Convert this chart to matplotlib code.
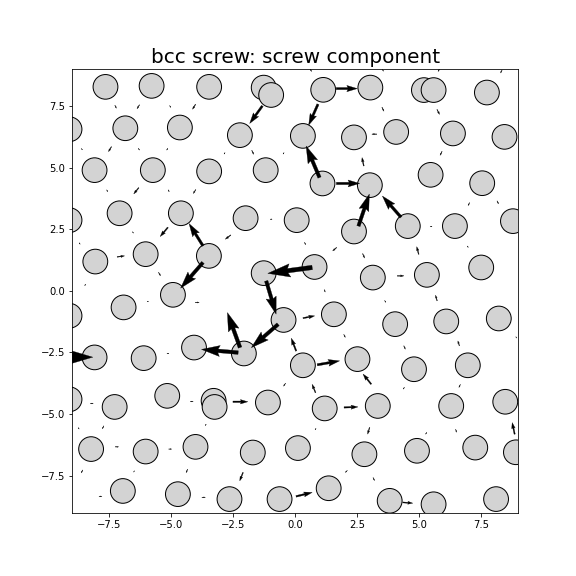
import numpy as np
import matplotlib
matplotlib.use('Agg')
import matplotlib.pyplot as plt

# ==========================================
# atom column positions
# ==========================================
atom_x = [-7.65, -5.79, -3.47, -1.27, -0.97, 1.13, 3.03, 5.19, 5.58, 7.73,
          -9.10, -6.85, -4.65, -2.23, 0.31, 2.37, 4.07, 6.36, 8.44,
          -8.09, -5.74, -3.47, -1.19, 1.10, 3.01, 5.46, 7.54,
          -9.10, -7.08, -4.61, -2.00, 0.06, 2.37, 4.54, 6.44, 8.78,
          -8.06, -6.03, -3.48, -1.27, 0.78, 3.13, 5.31, 7.50,
          -9.10, -6.92, -4.93, -0.47, 1.56, 4.03, 6.09, 8.21,
          -8.09, -6.11, -4.08, -2.07, 0.31, 2.51, 4.79, 6.96,
          -9.10, -7.28, -5.16, -3.29, -3.25, -1.10, 1.19, 3.33, 6.29, 8.47,
          -8.23, -6.03, -4.02, -1.71, 0.11, 2.79, 4.91, 7.26, 8.90,
          -6.95, -4.73, -2.65, -0.63, 1.35, 3.81, 5.58, 8.10]
atom_y = [8.28, 8.32, 8.28, 8.25, 7.95, 8.16, 8.25, 8.15, 8.15, 8.05,
          6.56, 6.60, 6.63, 6.32, 6.29, 6.23, 6.45, 6.39, 6.25,
          4.90, 4.90, 4.85, 4.90, 4.36, 4.29, 4.71, 4.37,
          2.87, 3.15, 3.15, 2.95, 2.87, 2.41, 2.63, 2.63, 2.83,
          1.19, 1.49, 1.42, 0.72, 0.97, 0.54, 0.65, 0.95,
          -1.01, -0.67, -0.16, -1.18, -0.95, -1.35, -1.24, -1.12,
          -2.70, -2.73, -2.30, -2.54, -3.02, -2.77, -3.18, -3.02,
          -4.40, -4.71, -4.26, -4.46, -4.71, -4.53, -4.77, -4.67, -4.67, -4.50,
          -6.42, -6.52, -6.33, -6.56, -6.38, -6.63, -6.49, -6.36, -6.55,
          -8.12, -8.25, -8.45, -8.45, -8.01, -8.52, -8.66, -8.45]

# ==========================================
# differential displacement arrows: centre and vector
# ==========================================
arrow_x = [-1.58, 0.73, 2.08, 0.71, 2.13, 2.73, 3.19, 2.77, 3.89, -5.29,
           -7.03, -4.00, -4.17, -6.41, -2.71, -0.21, -0.97, 0.55, -1.23, -2.48,
           -3.04, -9.16, -0.06, 1.34, 4.94, 4.25, 5.69, 0.75, -2.21, 2.25,
           2.90, 2.96, -2.17, 0.36, 8.80, 4.54,
           -7.24, -6.33, -5.04, -4.08, -7.47, -8.60, -6.30, -5.16, -7.58, -5.10,
           -4.06, -2.85, -1.71, -0.47, 0.63, 3.54, 5.77, 5.79, 8.31, 5.88,
           7.00, 8.17, -8.69, -6.54, -8.47, -5.47, -5.94, -3.95, -5.13, -0.97,
           0.40, 1.59, 2.76, 1.19, 1.99, 5.48, 6.96, 3.63, 8.91, 4.41,
           6.59, -8.20, -8.73, -7.75, -7.19, -5.04, -4.17, -3.61, -8.60, -4.37,
           -7.85, -3.69, -6.50, -0.43, 0.82, 2.06, 4.38, 6.63, 5.28, 6.49,
           3.17, 3.54]
arrow_y = [7.15, 7.15, 8.21, 5.24, 4.36, 5.24, 6.36, 3.28, 3.42, 2.39,
           1.40, 2.28, 0.63, 4.06, 2.18, 0.83, -0.27, -1.06, -1.83, -1.59,
           -2.44, -2.69, -2.18, -2.92, 1.64, 0.61, -0.29, -3.96, -4.50, -4.72,
           -3.58, -5.68, -7.54, -8.26, -5.58, -8.60,
           7.47, 7.47, 7.48, 7.47, 5.75, 5.75, 5.75, 5.75, 4.06, 4.06,
           4.03, 5.58, 5.62, 5.58, 8.96, 7.37, 7.26, 8.96, 8.90, 5.58,
           3.52, 3.59, 1.92, 2.37, 0.24, 0.68, -0.43, -0.47, -2.54, 2.91,
           1.92, 1.69, 1.42, 0.00, -1.83, 2.61, 1.79, -0.43, -1.89, -2.30,
           -2.13, -4.57, -5.58, -5.54, -6.33, -6.42, -4.49, -5.44, -7.33, -7.31,
           -8.34, -8.38, -7.33, -3.81, -5.61, -7.33, -3.95, -3.86, -5.78, -5.68,
           -7.64, 8.95]
arrow_u = [-0.51, -0.375, 0.85, -0.54, 0.94, -0.07, -0.20, 0.44, -0.75, -0.31,
           0.30, -0.56, -0.90, -0.20, -0.22, -1.79, 0.40, 0.47, -1.08, -0.51,
           -1.48, 2.00, -0.20, 0.90, -0.08, 0.27, -0.065, -0.14, 0.60, 0.56,
           -0.33, -0.08, -0.13, 0.65, -0.10, 0.40,
           0.06, -0.10, 0.04, -0.12, -0.12, 0.04, 0.04, -0.04, 0.04, 0.04,
           -0.10, -0.04, 0.08, -0.04, 0.06, 0.08, 0.10, -0.06, -0.06, -0.08,
           -0.06, 0.06, 0.04, 0.04, -0.04, 0.08, 0.06, 0.16, 0.08, 0.08,
           0.04, -0.16, 0.08, 0.04, 0.06, 0.08, 0.04, 0.04, 0.02, 0.06,
           -0.06, 0.12, 0.04, -0.06, 0.14, 0.12, 0.12, -0.04, -0.06, -0.06,
           0.12, 0.14, -0.02, -0.08, -0.04, -0.08, -0.04, -0.06, -0.04, 0.04,
           0.06, 0.04]
arrow_v = [-0.71, -0.85, 0.00, 1.28, 0.00, 0.34, 0.00, 1.30, 0.86, -0.37,
           0.04, 0.90, -1.04, -0.25, -0.17, -0.24, -1.35, 0.09, -0.95, 1.42,
           0.13, 0.00, 0.52, 0.16, 0.31, 0.00, 0.23, 0.34, 0.00, 0.02,
           0.41, -0.27, -0.34, 0.16, 0.47, -0.03,
           -0.12, -0.16, -0.08, -0.20, -0.20, -0.06, -0.08, -0.08, -0.08, -0.08,
           -0.16, -0.06, -0.16, -0.06, -0.12, -0.16, -0.20, -0.12, -0.12, -0.16,
           -0.12, -0.12, -0.06, -0.06, -0.06, -0.14, 0.02, 0.00, 0.02, 0.00,
           -0.10, -0.14, -0.18, -0.10, -0.12, 0.00, -0.06, -0.08, -0.06, -0.14,
           0.20, 0.00, -0.06, -0.12, 0.00, 0.00, 0.00, -0.06, -0.12, -0.14,
           0.00, 0.00, -0.06, -0.12, -0.06, -0.08, -0.08, -0.12, -0.08, -0.12,
           -0.12, -0.08]

ticks = [-7.5, -5.0, -2.5, 0.0, 2.5, 5.0, 7.5]
title = 'bcc screw: screw component'


def draw_dd_map():
    fig, ax = plt.subplots(figsize=(8, 8), dpi=72)

    # atoms as grey circles
    for x, y in zip(atom_x, atom_y):
        ax.add_patch(plt.Circle((x, y), 0.5, fc='lightgray', ec='k', lw=1.0, zorder=1))

    # arrows centred between atom pairs, thickness scales with length
    for cx, cy, u, v in zip(arrow_x, arrow_y, arrow_u, arrow_v):
        length = np.hypot(u, v)
        w = 0.1 * length
        ax.arrow(cx - u / 2, cy - v / 2, u, v, width=w, head_width=3 * w,
                 head_length=5 * w, length_includes_head=True, overhang=0.1,
                 fc='k', ec='k', lw=0.3, zorder=2)

    ax.set_xlim(-9, 9)
    ax.set_ylim(-9, 9)
    ax.set_xticks(ticks)
    ax.set_yticks(ticks)
    ax.set_title(title, fontsize=20)

    fig.savefig('out.png', dpi=72)


if __name__ == "__main__":
    draw_dd_map()
